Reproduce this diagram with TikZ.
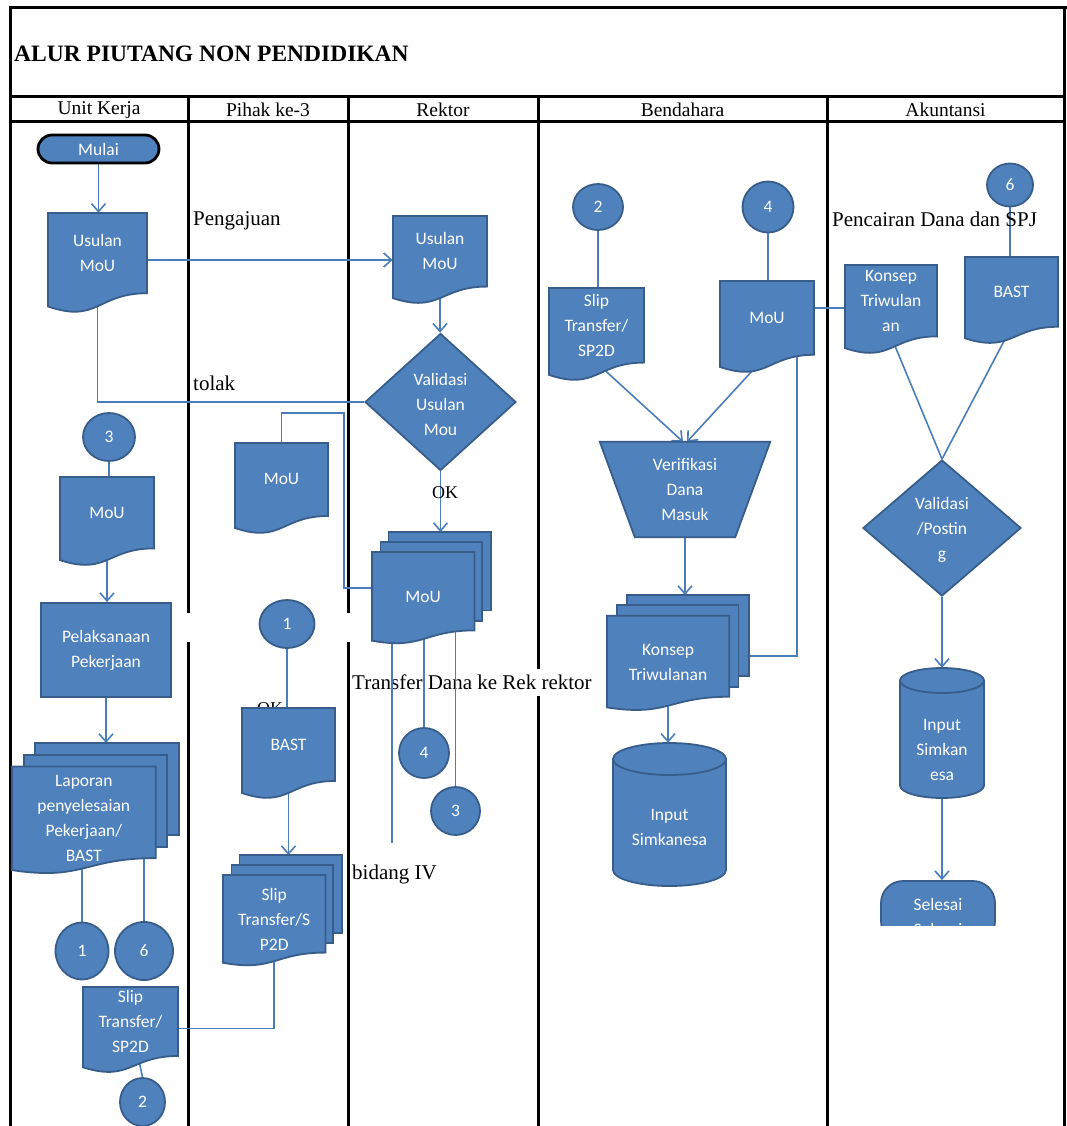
\documentclass[tikz,border=0pt]{standalone}
\usepackage{fontspec}
\setmainfont{Liberation Serif}
\newfontfamily\calib{Carlito}
\usetikzlibrary{arrows.meta,shapes.geometric,calc}
\pgfdeclarelayer{grid}
\pgfdeclarelayer{conn}
\pgfsetlayers{grid,conn,main}
\definecolor{bfill}{HTML}{4F81BD}
\definecolor{bline}{HTML}{385D8A}
\definecolor{cline}{HTML}{4A7EBB}
\tikzset{
 shp/.style={fill=bfill, draw=bline, line width=1.8pt},
 wtext/.style={text=white, font=\calib\fontsize{17.5}{25}\selectfont, align=center, inner sep=0pt},
 conn/.style={draw=cline, line width=1.6pt},
 arr/.style={conn, -{Straight Barb[length=8pt,width=14pt,line width=1.6pt]}},
 lane/.style={draw=black, line width=3pt},
 lbl/.style={font=\fontsize{21}{25}\selectfont, inner sep=0pt, anchor=west},
 oklbl/.style={font=\fontsize{18}{22}\selectfont, inner sep=0pt, anchor=west},
 hdr/.style={font=\fontsize{19.5}{23}\selectfont, inner sep=0pt},
 conncirc/.style={shp, wtext, ellipse}
}
% document shape: name, left x, top y, width, frame height, text
\newcommand\mydoc[6]{%
 \path[shp] (#2,#3) -- ({#2+#4},#3) -- ({#2+#4},{#3+0.802*#5})
   .. controls ({#2+0.5*#4},{#3+0.802*#5}) and ({#2+0.5*#4},{#3+1.107*#5}) .. (#2,{#3+0.934*#5}) -- cycle;
 \node[wtext, minimum width=#4pt, minimum height={0.8*#5pt}] (#1) at ({#2+0.5*#4},{#3+0.4*#5}) {#6};
}
% multi-document shape
\newcommand\mymdoc[6]{%
 \path[shp] ({#2+0.138*#4},#3) rectangle ({#2+#4},{#3+0.666*#5});
 \path[shp] ({#2+0.071*#4},{#3+0.084*#5}) rectangle ({#2+0.926*#4},{#3+0.752*#5});
 \path[shp] (#2,{#3+0.17*#5}) -- ({#2+0.861*#4},{#3+0.17*#5}) -- ({#2+0.861*#4},{#3+0.834*#5})
   .. controls ({#2+0.43*#4},{#3+0.834*#5}) and ({#2+0.43*#4},{#3+1.0*#5}) .. (#2,{#3+0.921*#5}) -- cycle;
 \node[wtext, minimum width={0.861*#4pt}, minimum height={0.66*#5pt}] (#1) at ({#2+0.43*#4},{#3+0.55*#5}) {#6};
 \coordinate (#1t) at ({#2+0.5*#4},#3);
 \coordinate (#1e) at ({#2+#4},{#3+0.5*#5});
}
% cylinder: name, x, y, w, h, ry
\newcommand\mycyl[6]{%
 \path[shp] (#2,{#3+#6}) -- (#2,{#3+#5-#6})
   arc[start angle=180,end angle=360,x radius={0.5*#4pt},y radius={#6pt}]
   -- ({#2+#4},{#3+#6})
   arc[start angle=0,end angle=180,x radius={0.5*#4pt},y radius={#6pt}] -- cycle;
 \path[draw=bline, line width=1.8pt] (#2,{#3+#6}) arc[start angle=180,end angle=360,x radius={0.5*#4pt},y radius={#6pt}];
 \node[inner sep=0pt, minimum width=#4pt, minimum height=#5pt] (#1) at ({#2+0.5*#4},{#3+0.5*#5}) {};
}
\begin{document}
\begin{tikzpicture}[x=1pt,y=-1pt]
\useasboundingbox (0,0) rectangle (1067,1126);

\begin{pgfonlayer}{grid}
 \fill[white] (0,0) rectangle (1067,1126);
 \draw[lane] (10,8) -- (10,1126);
 \draw[lane] (8.5,8) -- (1067,8);
 \draw[lane] (1064,8) -- (1064,1126);
 \draw[lane] (10,97) -- (1064,97);
 \draw[lane] (10,122) -- (1064,122);
 \draw[lane] (188,97) -- (188,613) (188,642) -- (188,1126);
 \draw[lane] (348,97) -- (348,613) (348,642) -- (348,1126);
 \draw[lane] (538,97) -- (538,1126);
 \draw[lane] (827,97) -- (827,1126);
 \node[lbl, fill=white, inner ysep=6pt] (trf) at (352,682) {Transfer Dana ke Rek rektor};
\end{pgfonlayer}

% title and headers
\node[anchor=west, inner sep=0pt, font=\bfseries\fontsize{23.5}{28}\selectfont] (title) at (14,53.5) {ALUR PIUTANG NON PENDIDIKAN};
\node[hdr] (h1) at (99,110) {Unit Kerja};
\node[hdr] (h2) at (268,110) {Pihak ke-3};
\node[hdr] (h3) at (443,110) {Rektor};
\node[hdr] (h4) at (682.5,110) {Bendahara};
\node[hdr] (h5) at (945.5,110) {Akuntansi};

% labels
\node[lbl] (peng) at (193,221) {Pengajuan};
\node[lbl] (tolak) at (193,383) {tolak};
\node[lbl] (bid) at (352,874) {bidang IV};
\node[lbl] (pcr) at (832,219) {Pencairan Dana dan SPJ};

% Unit Kerja
\node[shp, wtext, rounded corners=14pt, draw=black, line width=2.8pt, minimum width=121pt, minimum height=28pt] (mulai) at (98.5,149) {Mulai};
\mydoc{uku}{48}{213}{99}{100}{Usulan\\MoU}
\node[conncirc, minimum width=52pt, minimum height=48pt] (c3a) at (109,437) {3};
\mydoc{ukm}{60}{477}{94}{89}{MoU}
\node[shp, wtext, minimum width=130pt, minimum height=94pt] (pel) at (106,650) {Pelaksanaan\\Pekerjaan};
\mymdoc{lap}{12}{743}{167}{138}{Laporan\\penyelesaian\\Pekerjaan/\\BAST}
\node[conncirc, minimum width=53pt, minimum height=57pt] (c1a) at (82,951) {1};
\node[conncirc, minimum width=58pt, minimum height=58pt] (c6a) at (144,951) {6};
\mydoc{uks}{83}{987}{95}{86}{Slip\\Transfer/\\SP2D}
\node[conncirc, minimum width=45pt, minimum height=48pt] (c2a) at (142.5,1102) {2};

% Pihak ke-3
\mydoc{pkm}{235}{443}{93}{91}{MoU}
\node[conncirc, minimum width=55pt, minimum height=48pt] (c1b) at (287,624) {1};
\node[oklbl] (okb) at (257,709) {OK};
\mydoc{pkb}{242}{708}{93}{91}{BAST}
\mymdoc{pks}{223}{855}{119}{117}{Slip\\Transfer/S\\P2D}

% Rektor
\mydoc{rku}{393}{216}{94}{88}{Usulan\\MoU}
\node[shp, diamond, minimum width=151pt, minimum height=137pt, inner sep=0pt] (val) at (440.5,402) {};
\node[wtext] (valt) at (440.5,404) {Validasi\\Usulan\\Mou};
\node[oklbl] (ok) at (432,492.5) {OK};
\mymdoc{rkm}{372}{532}{119}{118}{MoU}
\node[conncirc, minimum width=50pt, minimum height=50pt] (c4b) at (424,753) {4};
\node[conncirc, minimum width=49pt, minimum height=48pt] (c3b) at (455.5,811) {3};
\coordinate (b4end) at (392,843);

% Bendahara
\node[conncirc, minimum width=50pt, minimum height=46pt] (c2b) at (598,207) {2};
\mydoc{bds}{549}{288}{95}{93}{Slip\\Transfer/\\SP2D}
\node[conncirc, minimum width=51pt, minimum height=51pt] (c4a) at (768,207) {4};
\mydoc{bdm}{720}{281}{94}{92}{MoU}
\node[inner sep=0pt, minimum width=170pt, minimum height=95pt] (ver) at (685,489.5) {};
\path[shp] (ver.north west) -- (ver.north east) -- ([xshift=-35pt]ver.south east) -- ([xshift=35pt]ver.south west) -- cycle;
\node[wtext] (vert) at (ver) {Verifikasi\\Dana\\Masuk};
\mymdoc{bdk}{607}{595}{142}{122}{Konsep\\Triwulanan}
\mycyl{bdc}{613}{743}{113}{143}{16}
\node[wtext] (bdct) at (669.5,827) {Input\\Simkanesa};

% Akuntansi
\node[conncirc, minimum width=46pt, minimum height=43pt] (c6b) at (1010,185) {6};
\mydoc{akk}{845}{265}{92}{89}{Konsep\\Triwulan\\an}
\mydoc{akb}{965}{257}{93}{87}{BAST}
\node[shp, diamond, minimum width=158pt, minimum height=136pt, inner sep=0pt] (akv) at (942,528) {};
\node[wtext] (akvt) at (942,530) {Validasi\\/Postin\\g};
\mycyl{akc}{900}{668}{84}{130}{12.5}
\node[wtext] (akct) at (942,750) {Input\\Simkan\\esa};
\begin{scope}
 \clip (870,870) rectangle (1010,925);
 \node[shp, rounded corners=22pt, minimum width=114pt, minimum height=62pt] (sel) at (938,912) {};
 \node[wtext] (selt) at (938,917) {Selesai\\Selesai};
\end{scope}

% connectors
\begin{pgfonlayer}{conn}
 \draw[arr] (mulai.south) -- (mulai.south |- uku.north);
 \draw[arr] ([yshift=-7pt]uku.east) -- ([yshift=-7pt]uku.east -| rku.west);
 \draw[conn] (uku.center) |- (val.west);
 \draw[conn] (c3a.south) -- (c3a.south |- ukm.north);
 \draw[arr] (ukm.center) -- (ukm.center |- pel.north);
 \draw[arr] (pel.south) -- (pel.south |- lapt);
 \draw[conn] (lap.center -| c1a.north) -- (c1a.north);
 \draw[conn] (lap.center -| c6a.north) -- (c6a.north);
 \draw[conn] (pks.center) |- ([yshift=-7pt]uks.east);
 \draw[conn] (uks.center) -- (c2a.north);
 \coordinate (k1) at (344,413);
 \coordinate (k2) at (344,588);
 \draw[conn] (pkm.north) |- (k1) -- (k2) -- (k2 -| rkm.west);
 \draw[conn] (c1b.south) -- (c1b.south |- pkb.north);
 \draw[arr] (pkb.center) -- (pkb.center |- pkst);
 \draw[arr] (rku.center) -- (rku.center |- val.north);
 \draw[arr] (val.south) -- (val.south |- rkmt);
 \draw[conn] (rkm.center -| c4b.north) -- (c4b.north);
 \draw[conn] (rkm.center -| c3b.north) -- (c3b.north);
 \draw[conn] (rkm.center -| b4end) -- (b4end);
 \draw[conn] (c2b.south) -- (c2b.south |- bds.north);
 \draw[arr] (bds.south) -- ([xshift=-2pt]ver.north);
 \draw[conn] (c4a.south) -- (c4a.south |- bdm.north);
 \draw[arr] (bdm.south) -- ([xshift=2pt]ver.north);
 \draw[conn] ([yshift=10pt]bdm.east) -- ([yshift=10pt]bdm.east -| akk.west);
 \draw[conn] ([xshift=-17pt]bdm.south east) |- (bdke);
 \draw[arr] (ver.south) -- (ver.south |- bdkt);
 \draw[arr] (bdk.center) -- (bdk.center |- bdc.north);
 \draw[conn] (c6b.south) -- (c6b.south |- akb.north);
 \draw[conn] (akk.south) -- (akv.north);
 \draw[conn] (akb.south) -- (akv.north);
 \draw[arr] (akv.south) -- (akv.south |- akc.north);
 \draw[arr] (akc.south) -- (akc.south |- sel.north);
\end{pgfonlayer}
\end{tikzpicture}
\end{document}
